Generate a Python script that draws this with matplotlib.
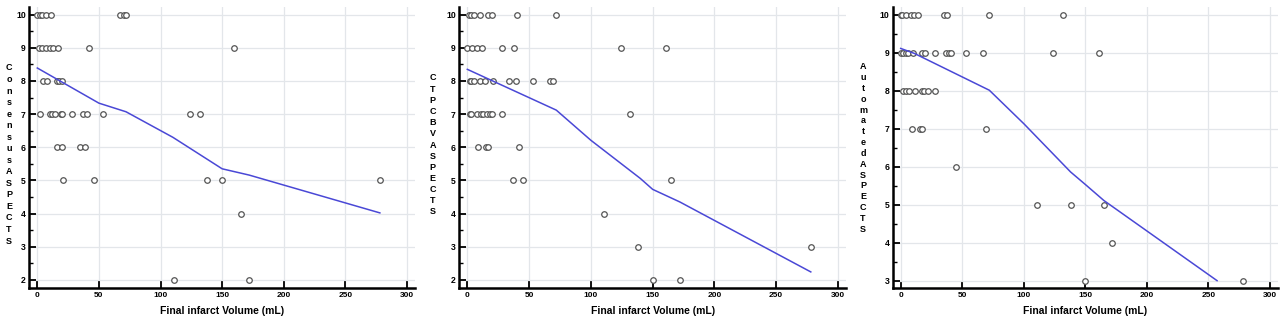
import matplotlib
matplotlib.use("Agg")
import matplotlib.pyplot as plt
from matplotlib.ticker import MultipleLocator

plt.rcParams['font.family'] = ['Liberation Sans', 'DejaVu Sans']

# ---- Panel 1: Consensus ASPECTS ----
p1_x = [0, 2, 4, 7, 11, 67, 70, 72,
        1, 4, 7, 10, 13, 17, 42, 160,
        5, 8, 16, 18, 20,
        2, 10, 12, 14, 19, 20, 28, 37, 40, 53, 124, 132,
        16, 20, 35, 39,
        21, 46, 138, 150, 278,
        165,
        111, 172]
p1_y = [10] * 8 + [9] * 8 + [8] * 5 + [7] * 12 + [6] * 4 + [5] * 5 + [4] * 1 + [2] * 2
p1_fit_x = [0, 50, 72, 110, 150, 172, 278]
p1_fit_y = [8.39, 7.33, 7.07, 6.30, 5.35, 5.16, 4.02]

# ---- Panel 2: CTP CBV ASPECTS ----
p2_x = [1, 3, 5, 10, 17, 20, 40, 72,
        0, 4, 8, 12, 28, 38, 124, 161,
        2, 3, 5, 10, 14, 21, 34, 39, 53, 67, 69,
        2, 3, 8, 11, 13, 16, 18, 20, 28, 132,
        9, 15, 17, 42,
        37, 45, 165,
        111,
        138, 278,
        150, 172]
p2_y = [10] * 8 + [9] * 8 + [8] * 11 + [7] * 10 + [6] * 4 + [5] * 3 + [4] * 1 + [3] * 2 + [2] * 2
p2_fit_x = [0, 72, 100, 140, 150, 172, 278]
p2_fit_y = [8.35, 7.12, 6.21, 5.06, 4.73, 4.35, 2.24]

# ---- Panel 3: Automated ASPECTS ----
p3_x = [0, 1, 4, 8, 11, 14, 35, 38, 72, 132,
        0, 2, 4, 6, 10, 17, 20, 28, 37, 39, 41, 53, 67, 124, 161,
        2, 4, 7, 12, 17, 19, 22, 28,
        9, 16, 17, 69,
        45,
        111, 138, 165,
        172,
        150, 278]
p3_y = [10] * 10 + [9] * 15 + [8] * 8 + [7] * 4 + [6] * 1 + [5] * 3 + [4] * 1 + [3] * 2
p3_fit_x = [0, 11, 72, 100, 138, 150, 165, 257]
p3_fit_y = [9.11, 8.98, 8.01, 7.13, 5.86, 5.53, 5.11, 3.00]

x_ticks = [0, 50, 100, 150, 200, 250, 300]
x_label = "Final infarct Volume (mL)"
y_labels = ["Consensus ASPECTS", "CTP CBV ASPECTS", "Automated ASPECTS"]

panels = [
    (p1_x, p1_y, p1_fit_x, p1_fit_y, (1.77, 10.23), [2, 3, 4, 5, 6, 7, 8, 9, 10]),
    (p2_x, p2_y, p2_fit_x, p2_fit_y, (1.77, 10.23), [2, 3, 4, 5, 6, 7, 8, 9, 10]),
    (p3_x, p3_y, p3_fit_x, p3_fit_y, (2.82, 10.20), [3, 4, 5, 6, 7, 8, 9, 10]),
]

W, H = 1280, 319
fig = plt.figure(figsize=(W / 100, H / 100), dpi=100)

ax_px = [(29.3, 415), (459.3, 846), (892.7, 1278)]
# (x center, first letter y, last letter y) in pixels
label_pos = [(9, 68, 241), (432.7, 78, 212), (863, 66.7, 229.3)]
top_px, bot_px = 7, 287.5

for i, (xs, ys, fx, fy, ylim, yt) in enumerate(panels):
    l, r = ax_px[i]
    ax = fig.add_axes([l / W, 1 - bot_px / H, (r - l) / W, (bot_px - top_px) / H])
    ax.set_facecolor('white')
    ax.grid(True, color='#e3e6ea', linewidth=0.9, zorder=0)
    ax.set_axisbelow(True)
    ax.scatter(xs, ys, s=16, facecolors='white', edgecolors='#555555',
               linewidths=0.9, zorder=3)
    ax.plot(fx, fy, color='#4a48d6', linewidth=1.1, zorder=4)
    ax.set_xlim(-6.5, 306.5)
    ax.set_ylim(*ylim)
    ax.set_xticks(x_ticks)
    ax.set_yticks(yt)
    ax.yaxis.set_minor_locator(MultipleLocator(0.5))
    for s in ['top', 'right']:
        ax.spines[s].set_visible(False)
    for s in ['left', 'bottom']:
        ax.spines[s].set_linewidth(1.8)
        ax.spines[s].set_color('black')
    ax.tick_params(axis='x', direction='in', length=5, width=1.3, pad=3.5,
                   labelsize=6)
    ax.tick_params(axis='y', which='major', direction='in', length=5, width=1.3,
                   pad=2.5, labelsize=6.2)
    ax.tick_params(axis='y', which='minor', direction='in', length=3, width=1.0)
    for lab in ax.get_xticklabels() + ax.get_yticklabels():
        lab.set_fontweight('bold')
    ax.set_xlabel(x_label, fontsize=7.5, fontweight='bold', labelpad=5)
    letters = [c for c in y_labels[i] if c != ' ']
    cx, y0, y1 = label_pos[i]
    n = len(letters)
    for k, c in enumerate(letters):
        yy = y0 + (y1 - y0) * k / (n - 1)
        fig.text(cx / W, 1 - yy / H, c, ha='center', va='center',
                 fontsize=6.5, fontweight='bold')

fig.savefig("out.png", dpi=100)
